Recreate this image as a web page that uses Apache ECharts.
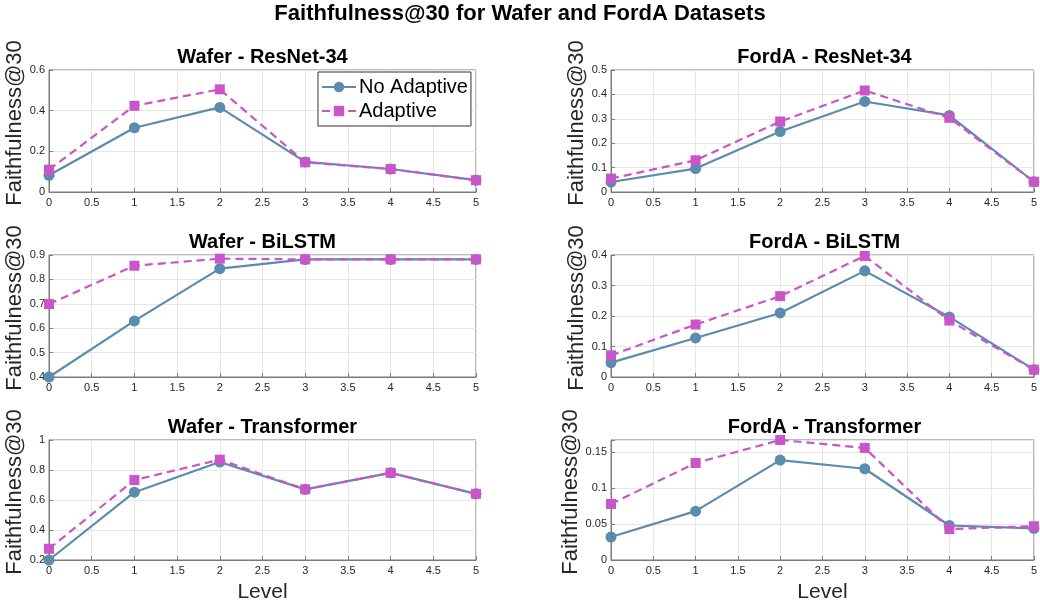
<!DOCTYPE html>
<html>
<head>
<meta charset="utf-8">
<script src="https://cdn.jsdelivr.net/npm/echarts@6/dist/echarts.min.js"></script>
<style>
  html, body { margin: 0; padding: 0; background: #ffffff; }
  #chart { width: 1040px; height: 604px; }
</style>
</head>
<body>
<div id="chart"></div>
<script>
// Levels on the x axis
const levels = [0, 1, 2, 3, 4, 5];
const seriesNames = ['No Adaptive', 'Adaptive'];

// Faithfulness@30 per level
const waferResNetNo        = [0.082, 0.316, 0.416, 0.148, 0.113, 0.058];
const waferResNetAdaptive  = [0.110, 0.424, 0.505, 0.146, 0.113, 0.058];
const fordaResNetNo        = [0.041, 0.096, 0.248, 0.371, 0.314, 0.042];
const fordaResNetAdaptive  = [0.055, 0.130, 0.289, 0.416, 0.304, 0.042];
const waferBiLSTMNo        = [0.400, 0.630, 0.844, 0.882, 0.882, 0.882];
const waferBiLSTMAdaptive  = [0.699, 0.856, 0.885, 0.882, 0.882, 0.882];
const fordaBiLSTMNo        = [0.047, 0.128, 0.210, 0.348, 0.197, 0.024];
const fordaBiLSTMAdaptive  = [0.071, 0.172, 0.265, 0.397, 0.185, 0.024];
const waferTransNo         = [0.200, 0.652, 0.853, 0.671, 0.781, 0.641];
const waferTransAdaptive   = [0.275, 0.733, 0.869, 0.671, 0.781, 0.641];
const fordaTransNo         = [0.032, 0.068, 0.139, 0.127, 0.048, 0.044];
const fordaTransAdaptive   = [0.078, 0.135, 0.167, 0.156, 0.043, 0.047];

// Subplot titles and y ranges
const panelTitles = ['Wafer - ResNet-34', 'FordA - ResNet-34', 'Wafer - BiLSTM', 'FordA - BiLSTM', 'Wafer - Transformer', 'FordA - Transformer'];
const yMins = [0, 0, 0.4, 0, 0.2, 0];
const yMaxs = [0.6, 0.5, 0.9, 0.4, 1.0, 0.167];
const yIntervals = [0.2, 0.1, 0.1, 0.1, 0.2, 0.05];
const panelData = [
  [waferResNetNo, waferResNetAdaptive],
  [fordaResNetNo, fordaResNetAdaptive],
  [waferBiLSTMNo, waferBiLSTMAdaptive],
  [fordaBiLSTMNo, fordaBiLSTMAdaptive],
  [waferTransNo, waferTransAdaptive],
  [fordaTransNo, fordaTransAdaptive]
];

const FONT = "'Liberation Sans', Arial, Helvetica, sans-serif";
const TEXT = '#262626';
const BLUE = '#5b8bad';
const MAGENTA = '#c955c9';

const colLeft = [49, 611];
const plotW = 427;
const rowTop = [70, 255, 440];
const plotH = 122;

const grids = [], xAxes = [], yAxes = [], series = [], titles = [];

titles.push({
  text: 'Faithfulness@30 for Wafer and FordA Datasets',
  left: 'center', top: 3, padding: 0,
  textStyle: { fontFamily: FONT, fontSize: 22, fontWeight: 'bold', color: '#000' }
});

panelTitles.forEach((name, i) => {
  const col = i % 2, row = Math.floor(i / 2);
  const left = colLeft[col], top = rowTop[row];
  grids.push({ left: left, top: top, width: plotW, height: plotH, show: true,
    borderColor: '#7a7a7a', borderWidth: 1, backgroundColor: '#ffffff' });
  titles.push({
    text: name, left: left + plotW / 2, top: top - 23, textAlign: 'center', padding: 0,
    textStyle: { fontFamily: FONT, fontSize: 20, fontWeight: 'bold', color: '#000' }
  });
  const interval = yIntervals[i];
  xAxes.push({
    type: 'value', gridIndex: i, min: 0, max: 5, interval: 0.5,
    name: row === 2 ? 'Level' : '', nameLocation: 'middle', nameGap: 22,
    nameTextStyle: { fontFamily: FONT, fontSize: 21, color: TEXT },
    axisLine: { lineStyle: { color: '#7a7a7a', width: 1 } },
    axisTick: { show: true, inside: true, length: 4, lineStyle: { color: '#7a7a7a' } },
    axisLabel: { fontFamily: FONT, fontSize: 11, color: TEXT, margin: 5 },
    splitLine: { show: true, lineStyle: { color: '#e6e6e6', width: 1 } }
  });
  yAxes.push({
    type: 'value', gridIndex: i, min: yMins[i], max: yMaxs[i], interval: interval,
    name: 'Faithfulness@30', nameLocation: 'middle', nameGap: 20, nameRotate: 90,
    nameTextStyle: { fontFamily: FONT, fontSize: 22, color: TEXT, padding: [0, 0, 0, 16] },
    axisLine: { show: true, lineStyle: { color: '#7a7a7a', width: 1 } },
    axisTick: { show: true, inside: true, length: 4, lineStyle: { color: '#7a7a7a' } },
    axisLabel: {
      fontFamily: FONT, fontSize: 11, color: TEXT, margin: 4,
      formatter: function (v) {
        const k = v / interval;
        if (Math.abs(k - Math.round(k)) > 1e-6) return '';
        return String(Math.round(v * 1000) / 1000);
      }
    },
    splitLine: { show: true, lineStyle: { color: '#e6e6e6', width: 1 } }
  });
  const [noAd, ad] = panelData[i];
  series.push({
    name: seriesNames[0], type: 'line', xAxisIndex: i, yAxisIndex: i,
    data: levels.map((x, j) => [x, noAd[j]]),
    symbol: 'circle', symbolSize: 11, showAllSymbol: true,
    lineStyle: { color: BLUE, width: 2.2 },
    itemStyle: { color: BLUE, borderWidth: 0 },
    emphasis: { disabled: true }, animation: false, z: 2
  });
  series.push({
    name: seriesNames[1], type: 'line', xAxisIndex: i, yAxisIndex: i,
    data: levels.map((x, j) => [x, ad[j]]),
    symbol: 'rect', symbolSize: 10, showAllSymbol: true,
    lineStyle: { color: MAGENTA, width: 2.2, type: [8, 5] },
    itemStyle: { color: MAGENTA, borderWidth: 0 },
    emphasis: { disabled: true }, animation: false, z: 3
  });
});

const chart = echarts.init(document.getElementById('chart'), null, { renderer: 'canvas' });
chart.setOption({
  backgroundColor: '#ffffff',
  animation: false,
  title: titles,
  grid: grids,
  xAxis: xAxes,
  yAxis: yAxes,
  series: series,
  legend: {
    data: seriesNames, orient: 'vertical', left: 318, top: 72,
    itemWidth: 34, itemHeight: 13, itemGap: 2,
    padding: [4, 3, 4, 3],
    backgroundColor: '#ffffff', borderColor: '#333333', borderWidth: 1, borderRadius: 0,
    selectedMode: false,
    textStyle: { fontFamily: FONT, fontSize: 20, color: '#000', lineHeight: 22, padding: [0, 0, 0, -2] }
  }
});
</script>
</body>
</html>
